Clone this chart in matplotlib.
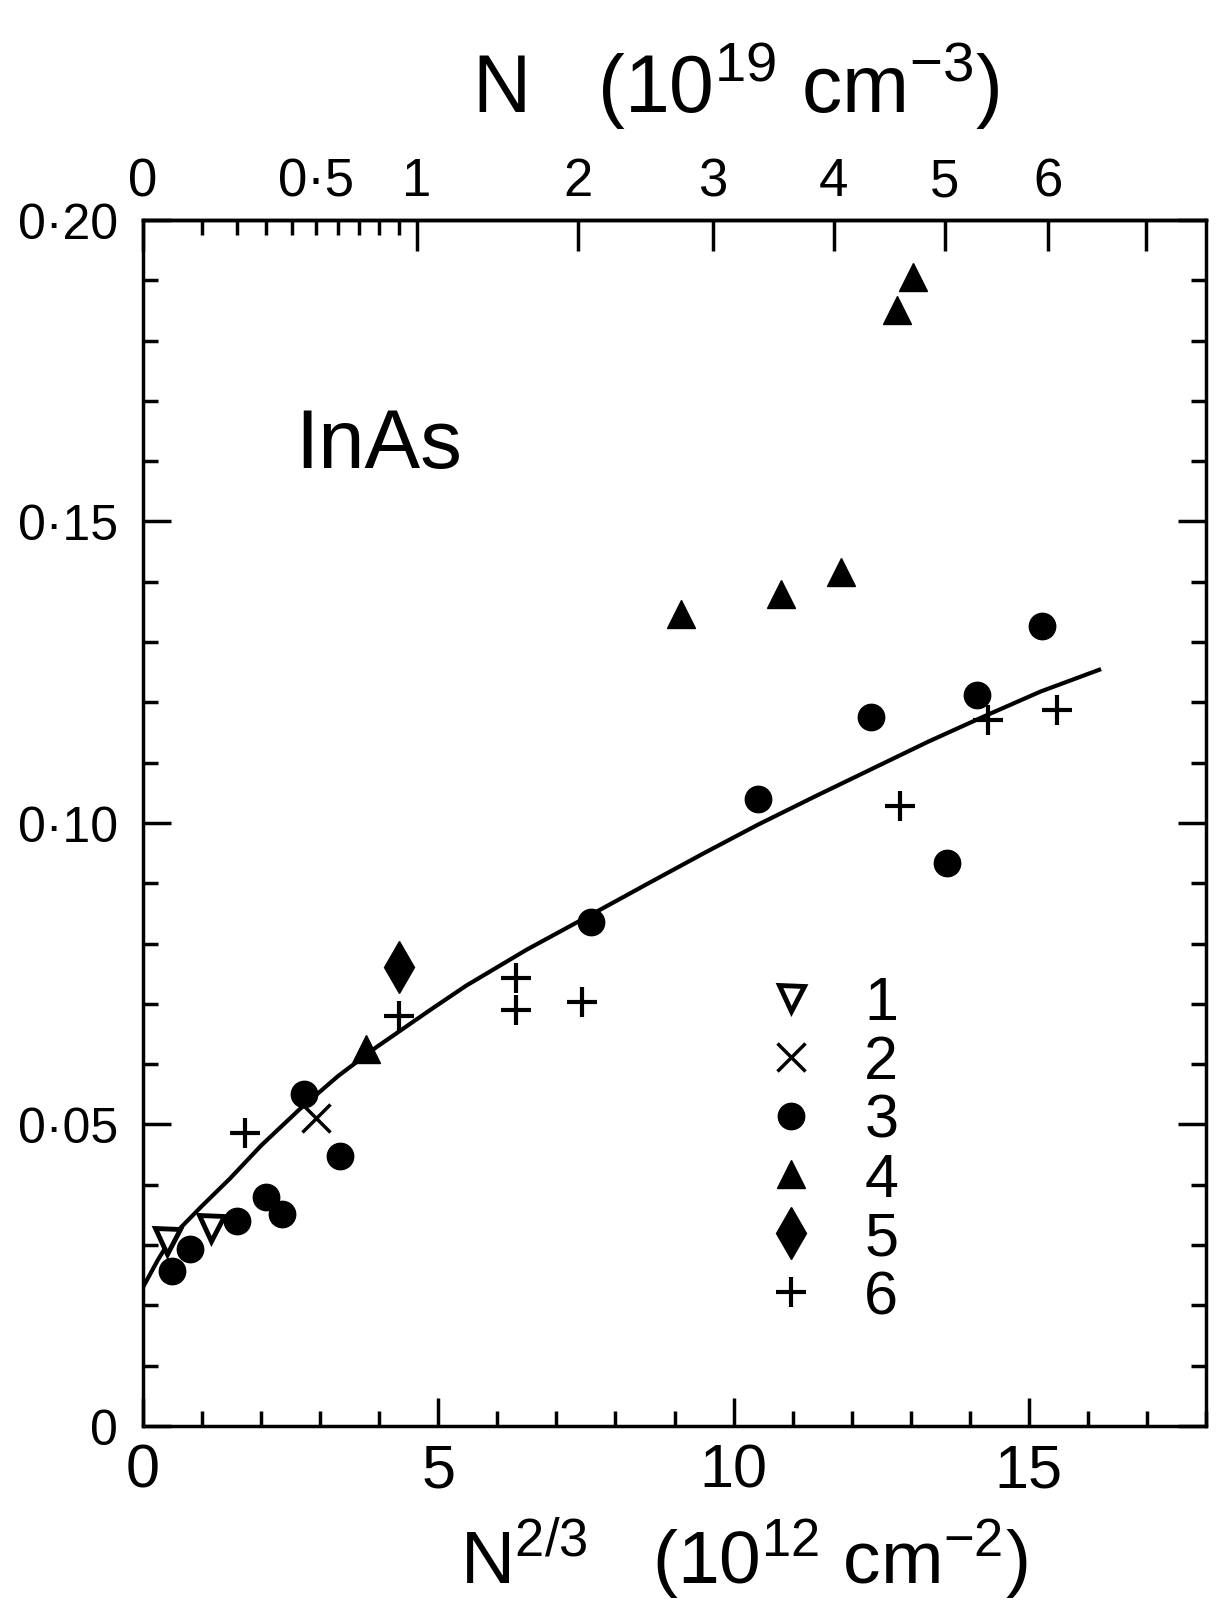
import numpy as np
import matplotlib
matplotlib.use("Agg")
import matplotlib.pyplot as plt
from matplotlib.ticker import FixedLocator, FixedFormatter, MultipleLocator

plt.rcParams['font.family'] = ['Liberation Sans', 'DejaVu Sans']
plt.rcParams['mathtext.default'] = 'regular'

# data: x = N^(2/3) (1e12 cm^-2), y = value
s1_x = [0.40, 1.15]
s1_y = [0.0307, 0.0329]

s2_x = [2.93]
s2_y = [0.0511]

s3_x = [0.49, 0.80, 1.59, 2.09, 2.35, 2.73, 3.33, 7.59, 10.41, 12.33, 13.62, 14.12, 15.22]
s3_y = [0.0257, 0.0293, 0.0340, 0.0379, 0.0351, 0.0550, 0.0448, 0.0836, 0.1040, 0.1176, 0.0933, 0.1213, 0.1327]

s4_x = [3.78, 9.11, 10.80, 11.82, 12.77, 13.03]
s4_y = [0.0625, 0.1346, 0.1379, 0.1416, 0.1850, 0.1905]

s5_x = [4.33]
s5_y = [0.0761]

s6_x = [1.72, 4.34, 6.31, 6.32, 7.44, 12.82, 14.30, 15.47]
s6_y = [0.0486, 0.0680, 0.0743, 0.0690, 0.0703, 0.1028, 0.1170, 0.1188]

# fitted curve, points
fit_x = [0.0, 0.25, 0.5, 1.0, 1.47, 2.0, 2.65, 3.3, 3.95, 4.85, 5.47, 6.5, 7.59, 8.56, 9.5, 10.41, 11.4, 12.35, 13.3, 14.27, 15.2, 16.19]
fit_y = [0.0230, 0.0275, 0.0315, 0.0365, 0.0410, 0.0465, 0.0525, 0.0580, 0.0628, 0.0689, 0.0730, 0.0790, 0.0848, 0.0900, 0.0950, 0.0997, 0.1045, 0.1090, 0.1135, 0.1178, 0.1218, 0.1254]

y_ticks = [0, 0.05, 0.10, 0.15, 0.20]
y_labels = ['0', '0·05', '0·10', '0·15', '0·20']
x_ticks = [0, 5, 10, 15]
x_labels = ['0', '5', '10', '15']
top_major = [0, 1, 2, 3, 4, 5, 6, 7]
top_major_labels = ['0', '1', '2', '3', '4', '5', '6', '']
top_minor = [0.1, 0.2, 0.3, 0.4, 0.5, 0.6, 0.7, 0.8, 0.9]
top_minor_labels = ['', '', '', '', '0·5', '', '', '', '']

X19 = 10 ** (19 * 2 / 3 - 12)   # N = 1e19 cm^-3 -> N^(2/3) in 1e12 cm^-2


def x_to_n(x):
    return (np.clip(x, 0, None) / X19) ** 1.5


def n_to_x(n):
    return X19 * np.clip(n, 0, None) ** (2 / 3)


fig = plt.figure(figsize=(12.16, 16.06), dpi=100)
ax = fig.add_axes([0.1176, 0.1115, 0.8742, 0.7509])

ax.plot(fit_x, fit_y, color='black', lw=3)

ax.plot(s1_x, s1_y, 'v', ms=18, mfc='white', mec='black', mew=3.5, ls='none', label='1')
ax.plot(s2_x, s2_y, 'x', ms=20, mec='black', mew=2.5, ls='none', label='2')
ax.plot(s3_x, s3_y, 'o', ms=19, mfc='black', mec='black', ls='none', label='3')
ax.plot(s4_x, s4_y, '^', ms=20, mfc='black', mec='black', ls='none', label='4')
ax.plot(s5_x, s5_y, 'd', ms=26, mfc='black', mec='black', ls='none', label='5')
ax.plot(s6_x, s6_y, '+', ms=22, mec='black', mew=3, ls='none', label='6')

ax.text(3.99, 0.159, 'InAs', fontsize=60, ha='center', va='baseline')

ax.set_xlim(0, 18)
ax.set_ylim(0, 0.20)

for sp in ax.spines.values():
    sp.set_linewidth(2.5)

ax.yaxis.set_major_locator(FixedLocator(y_ticks))
ax.yaxis.set_major_formatter(FixedFormatter(y_labels))
ax.yaxis.set_minor_locator(MultipleLocator(0.01))
ax.xaxis.set_major_locator(FixedLocator(x_ticks))
ax.xaxis.set_major_formatter(FixedFormatter(x_labels))
ax.xaxis.set_minor_locator(MultipleLocator(1))

ax.tick_params(axis='both', which='both', direction='in', width=2.5, right=True)
ax.tick_params(axis='both', which='major', length=20)
ax.tick_params(axis='both', which='minor', length=11)
ax.tick_params(axis='x', which='major', labelsize=44, pad=12)
ax.tick_params(axis='y', which='major', labelsize=36, pad=18)

top = ax.secondary_xaxis('top', functions=(x_to_n, n_to_x))
top.xaxis.set_major_locator(FixedLocator(top_major))
top.xaxis.set_major_formatter(FixedFormatter(top_major_labels))
top.xaxis.set_minor_locator(FixedLocator(top_minor))
top.xaxis.set_minor_formatter(FixedFormatter(top_minor_labels))
top.tick_params(axis='x', which='both', direction='in', width=2.5, labelsize=38, pad=10)
top.tick_params(axis='x', which='major', length=22)
top.tick_params(axis='x', which='minor', length=11)
top.spines['top'].set_linewidth(2.5)

fig.text(0.605, 0.930, r'N   (10$^{19}$ cm$^{-3}$)', fontsize=58, ha='center', va='baseline')
fig.text(0.612, 0.014, r'N$^{2/3}$   (10$^{12}$ cm$^{-2}$)', fontsize=54, ha='center', va='baseline')

ax.legend(loc='upper left', bbox_to_anchor=(0.552, 0.399), frameon=False, fontsize=44,
          handlelength=1.0, handletextpad=0.7, labelspacing=0.03, borderpad=0, numpoints=1)

fig.savefig('out.png', dpi=100)
